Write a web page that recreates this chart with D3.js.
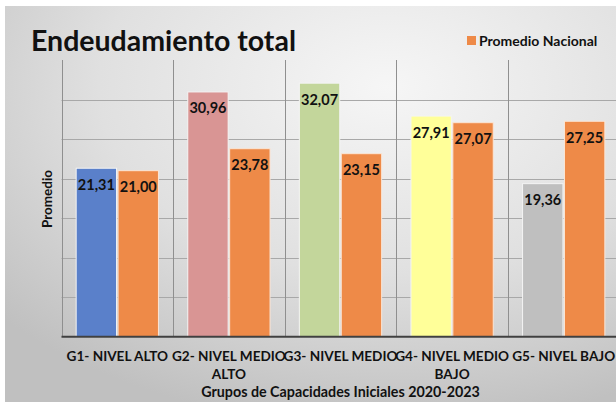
<!DOCTYPE html>
<meta charset="utf-8">
<style>
body { margin: 0; background: #fff; }
text { font-family: Lato, "Open Sans", sans-serif; font-weight: bold; fill: #111; }
.grid line { stroke: #a8a8a8; stroke-width: 1px; }
.vgrid line { stroke: #8f8f8f; stroke-width: 1px; }
</style>
<body>
<script src="https://cdn.jsdelivr.net/npm/d3@7/dist/d3.min.js"></script>
<script>

// chart data
var groups = ["G1", "G2", "G3", "G4", "G5"];
var groupLabels = [["G1- NIVEL ALTO"], ["G2- NIVEL MEDIO", "ALTO"], ["G3- NIVEL MEDIO"], ["G4- NIVEL MEDIO", "BAJO"], ["G5- NIVEL BAJO"]];
var grupoValues = [21.31, 30.96, 32.07, 27.91, 19.36];
var nacionalValues = [21.00, 23.78, 23.15, 27.07, 27.25];
var grupoColors = ["#5a80ca", "#d99594", "#c3d69b", "#ffff99", "#bfbfbf"];
var nacionalColor = "#ee8a48";
var yTicks = [5, 10, 15, 20, 25, 30];

var W = 616, H = 402;
var plot = {left: 61.5, right: 619.5, top: 60, bottom: 336.7};

var svg = d3.select("body").append("svg")
    .attr("width", W)
    .attr("height", H);

// background panel with soft gradient
var defs = svg.append("defs");
var grad = defs.append("radialGradient")
    .attr("id", "bg")
    .attr("cx", "62%").attr("cy", "20%").attr("r", "85%");
grad.append("stop").attr("offset", "0%").attr("stop-color", "#f6f6f6");
grad.append("stop").attr("offset", "55%").attr("stop-color", "#e0e0e0");
grad.append("stop").attr("offset", "100%").attr("stop-color", "#c0c0c0");

svg.append("rect")
    .attr("x", 5).attr("y", 6)
    .attr("width", W).attr("height", H)
    .attr("fill", "url(#bg)");

// scales
var x = d3.scaleBand().domain(groups).range([plot.left, plot.right]).padding(0);
var xSub = d3.scaleBand().domain(["grupo", "nacional"])
    .range([0, x.bandwidth()]).paddingInner(0.036).paddingOuter(0.35);
var y = d3.scaleLinear().domain([0, 35]).range([plot.bottom, plot.top]);

// horizontal gridlines
svg.append("g").attr("class", "grid")
  .selectAll("line").data(yTicks).enter().append("line")
    .attr("x1", plot.left).attr("x2", plot.right)
    .attr("y1", function(d) { return Math.round(y(d)) + 0.5; })
    .attr("y2", function(d) { return Math.round(y(d)) + 0.5; });

// vertical category separators
var seps = groups.map(function(g) { return x(g); });
svg.append("g").attr("class", "vgrid")
  .selectAll("line").data(seps).enter().append("line")
    .attr("x1", function(d) { return Math.round(d) + 0.5; })
    .attr("x2", function(d) { return Math.round(d) + 0.5; })
    .attr("y1", plot.top).attr("y2", plot.bottom);

// bars
var bars = svg.append("g");
groups.forEach(function(g, i) {
  bars.append("rect")
      .attr("x", x(g) + xSub("grupo"))
      .attr("y", y(grupoValues[i]))
      .attr("width", xSub.bandwidth())
      .attr("height", plot.bottom - y(grupoValues[i]))
      .attr("fill", grupoColors[i])
      .attr("stroke", "#f4f4f4").attr("stroke-width", 1);
  bars.append("rect")
      .attr("x", x(g) + xSub("nacional"))
      .attr("y", y(nacionalValues[i]))
      .attr("width", xSub.bandwidth())
      .attr("height", plot.bottom - y(nacionalValues[i]))
      .attr("fill", nacionalColor)
      .attr("stroke", "#fbe6d6").attr("stroke-width", 1);
});

// value labels
var fmt = function(v) { return d3.format(".2f")(v).replace(".", ","); };
groups.forEach(function(g, i) {
  svg.append("text")
      .attr("x", x(g) + xSub("grupo") + xSub.bandwidth() / 2)
      .attr("y", y(grupoValues[i]) + 21.5)
      .attr("text-anchor", "middle")
      .style("font-size", "14.5px")
      .text(fmt(grupoValues[i]));
  svg.append("text")
      .attr("x", x(g) + xSub("nacional") + xSub.bandwidth() / 2)
      .attr("y", y(nacionalValues[i]) + 21.5)
      .attr("text-anchor", "middle")
      .style("font-size", "14.5px")
      .text(fmt(nacionalValues[i]));
});

// baseline
svg.append("line")
    .attr("x1", plot.left).attr("x2", plot.right)
    .attr("y1", plot.bottom).attr("y2", plot.bottom)
    .attr("stroke", "#404040").attr("stroke-width", 2);

// category labels
groups.forEach(function(g, i) {
  var t = svg.append("text")
      .attr("x", x(g) + x.bandwidth() / 2)
      .attr("y", 360.5)
      .attr("text-anchor", "middle")
      .style("font-size", "13.6px");
  groupLabels[i].forEach(function(line, j) {
    t.append("tspan")
        .attr("x", x(g) + x.bandwidth() / 2)
        .attr("dy", j === 0 ? 0 : 18.5)
        .text(line);
  });
});

// axis titles
svg.append("text")
    .attr("x", (plot.left + plot.right) / 2)
    .attr("y", 396.5)
    .attr("text-anchor", "middle")
    .style("font-size", "14.3px")
    .text("Grupos de Capacidades Iniciales 2020-2023");

svg.append("text")
    .attr("transform", "translate(52,199) rotate(-90)")
    .attr("text-anchor", "middle")
    .style("font-size", "13.5px")
    .text("Promedio");

// title
svg.append("text")
    .attr("x", 31)
    .attr("y", 51)
    .style("font-size", "28.5px")
    .text("Endeudamiento total");

// legend
svg.append("rect")
    .attr("x", 467).attr("y", 36)
    .attr("width", 9).attr("height", 9)
    .attr("fill", nacionalColor);
svg.append("text")
    .attr("x", 479)
    .attr("y", 45.5)
    .style("font-size", "14px")
    .text("Promedio Nacional");

</script>
</body>
